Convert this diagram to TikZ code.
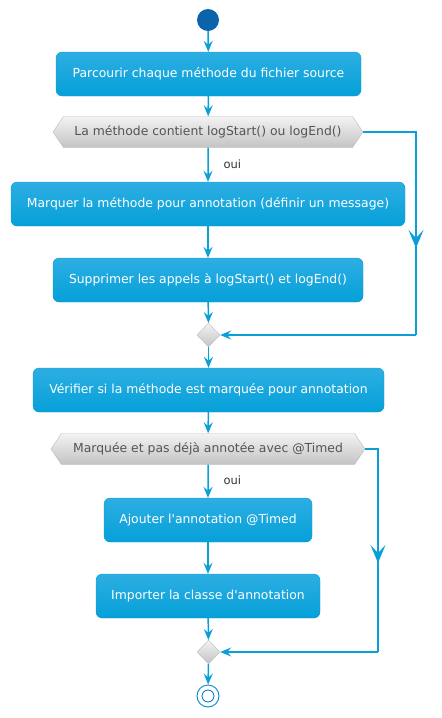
\documentclass[tikz,border=0pt]{standalone}
\usepackage{fontspec}
\setmainfont{DejaVu Sans}
\usepackage{xcolor}
\usetikzlibrary{arrows.meta, shapes.symbols, shapes.geometric}
\definecolor{flowblue}{HTML}{0B9FDA}
\definecolor{boxtop}{HTML}{2DAEE2}
\definecolor{boxbot}{HTML}{05A0D9}
\definecolor{boxline}{HTML}{0E9CD3}
\definecolor{graytop}{HTML}{F3F3F3}
\definecolor{graybot}{HTML}{C3C3C3}
\definecolor{grayline}{HTML}{BDBDBD}
\definecolor{graytext}{HTML}{555555}
\definecolor{startblue}{HTML}{0B63AB}
\definecolor{endblue}{HTML}{0888C8}
\tikzset{
    action/.style={draw=boxline, rounded corners=6pt, top color=boxtop, bottom color=boxbot, text=white, minimum height=44pt, inner sep=0pt, font=\fontsize{12.4}{15}\selectfont},
    test/.style={signal, signal to=east and west, signal pointer angle=112, draw=grayline, top color=graytop, bottom color=graybot, text=graytext, minimum height=31pt, inner sep=0pt, font=\fontsize{12.4}{15}\selectfont},
    merge/.style={diamond, draw=grayline, top color=graytop, bottom color=graybot, minimum width=23pt, minimum height=24pt, inner sep=0pt},
    flow/.style={draw=flowblue, line width=1.5pt, -{Stealth[length=11pt, width=9pt, inset=4pt]}},
    midflow/.style={draw=flowblue, line width=1.5pt, -{Stealth[length=18pt, width=15pt, inset=8pt]}},
    line/.style={draw=flowblue, line width=1.5pt},
    guard/.style={text=black!80, font=\fontsize{11.5}{14}\selectfont, anchor=west}
}
\begin{document}
\begin{tikzpicture}[x=1pt, y=-1pt]
    \useasboundingbox (0,0) rectangle (442,718);
    % Start and first loop body
    \node[circle, fill=startblue, minimum size=22pt, inner sep=0pt] (start) at (208,20) {};
    \node[action, minimum width=305pt] (parcours) at (208.5,74) {Parcourir chaque méthode du fichier source};
    \node[test, minimum width=310pt] (contient) at (208,132) {La méthode contient logStart() ou logEnd()};
    \node[guard] (oui1) at (220,164) {oui};
    \node[action, minimum width=394pt] (marquer) at (208,204) {Marquer la méthode pour annotation (définir un message)};
    \node[action, minimum width=310pt] (supprimer) at (208,280) {Supprimer les appels à logStart() et logEnd()};
    \node[merge] (fin1) at (208.5,335) {};
    % Second test
    \node[action, minimum width=351pt] (verifier) at (208.5,390) {Vérifier si la méthode est marquée pour annotation};
    \node[test, minimum width=314pt] (marquee) at (208,449) {Marquée et pas déjà annotée avec @Timed};
    \node[guard] (oui2) at (220,480) {oui};
    \node[action, minimum width=208pt] (ajouter) at (208,520) {Ajouter l\textquotesingle annotation @Timed};
    \node[action, minimum width=224pt] (importer) at (208,596) {Importer la classe d\textquotesingle annotation};
    \node[merge] (fin2) at (208.5,652) {};
    % End
    \node[circle, draw=endblue, fill=white, line width=0.9pt, minimum size=22pt, inner sep=0pt] (stop) at (208,696) {};
    \node[circle, draw=endblue, line width=0.9pt, minimum size=12pt, inner sep=0pt] (stopin) at (208,696) {};

    % Right branches
    \coordinate (c1a) at (416,132);
    \coordinate (c1b) at (416,248);
    \coordinate (c1c) at (416,335);
    \coordinate (c2a) at (378,449);
    \coordinate (c2b) at (378,563);
    \coordinate (c2c) at (378,652);

    \draw[flow] (start) -- (parcours);
    \draw[flow] (parcours) -- (contient);
    \draw[flow] (contient) -- (marquer);
    \draw[flow] (marquer) -- (supprimer);
    \draw[flow] (supprimer) -- (fin1);
    \draw[line] (contient.east) -- (c1a) -- (c1c);
    \draw[midflow] (c1a) -- (c1b);
    \draw[flow] (c1c) -- (fin1.east);
    \draw[flow] (fin1) -- (verifier);
    \draw[flow] (verifier) -- (marquee);
    \draw[flow] (marquee) -- (ajouter);
    \draw[flow] (ajouter) -- (importer);
    \draw[flow] (importer) -- (fin2);
    \draw[line] (marquee.east) -- (c2a) -- (c2c);
    \draw[midflow] (c2a) -- (c2b);
    \draw[flow] (c2c) -- (fin2.east);
    \draw[flow] (fin2) -- (stop);
\end{tikzpicture}
\end{document}
